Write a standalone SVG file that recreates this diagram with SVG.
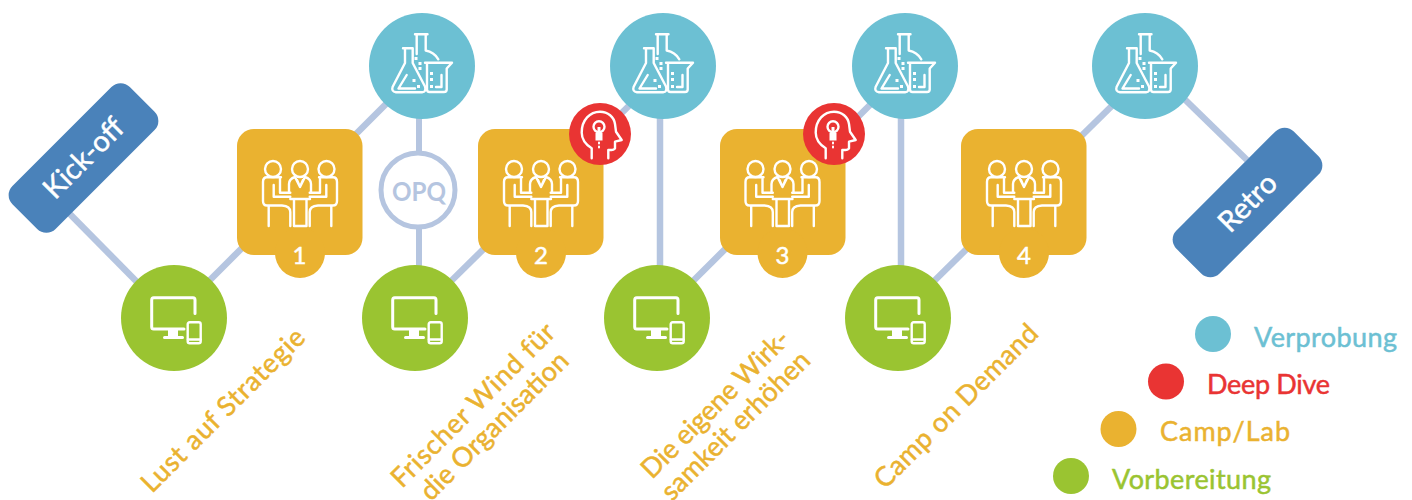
<svg xmlns="http://www.w3.org/2000/svg" xmlns:xlink="http://www.w3.org/1999/xlink" width="1412" height="500" viewBox="0 0 1412 500">
<style>
.t{fill:#6cc0d3}.g{fill:#9ac431}.y{fill:#eab230}.r{fill:#e93433}.b{fill:#4a82ba}
.ln{stroke:#b5c5e0;stroke-width:6.500;fill:none}
.ic{fill:none;stroke:#fff;stroke-width:2.400;stroke-linejoin:round;stroke-linecap:round}
.dot{fill:#fff}
text{font-family:"Lato","Noto Sans",sans-serif;paint-order:stroke}
.lab{font-size:27px;fill:#eab230;stroke:#eab230;stroke-width:.5}
.leg{font-size:27px;stroke-width:.5}
.leg.t{stroke:#6cc0d3}.leg.r{stroke:#e93433}.leg.y{stroke:#eab230}.leg.g{stroke:#9ac431}
.num{font-size:24px;fill:#fff;stroke:#fff;stroke-width:.5;text-anchor:middle}
.pill{font-size:29px;fill:#fff;stroke:#fff;stroke-width:.5;text-anchor:middle}
</style>
<defs>
<g id="flask">
<path class="ic" d="M-16-17.700H-6.300V-3L6 20.500Q7.500 26 3 26.300H-23Q-28 25.500-26.300 20.700L-14-3V-17.700"/>
<path class="ic" d="M-12.300 9L-20.500 22.500H-4"/>
<path class="ic" d="M-4-31.700H8.500M-2.300-31.700V-12M6.700-31.700V-15.500Q15-14 19.300-6.700"/>
<path class="ic" d="M6-3.300H33L27.700 2.500V23.500Q27.700 26 25 26H10.500Q8 26 8 23.500V-3"/>
<path class="ic" d="M22.500 9V21H17"/>
<path class="dot" d="M-4.500-9h3v3h-3zM-.5-4h3v3h-3zM-.5 1h3v3h-3zM-6.500 13h3v3h-3zM-2 19h3v3h-3zM11 6h3v3h-3zM11 12h3v3h-3zM11 19h3v3h-3z"/>
</g>
<g id="people">
<circle class="ic" cx="-27" cy="-23" r="8"/><circle class="ic" cx="0" cy="-23" r="8"/><circle class="ic" cx="26.500" cy="-23" r="8"/>
<path class="ic" d="M-19-14.700H-33Q-37-14.700-37-10V9Q-37 13.500-33 13.500H-18Q-9.700 14-9.700 20V34M-31.300 14V34M-26.300-7V4.700H-9.700M-20-13V.7H-9.700"/>
<path class="ic" d="M19-14.700H33Q37-14.700 37-10V9Q37 13.500 33 13.500H18Q9.700 14 9.700 20V34M31.300 14V34M26.300-7V4.700H9.700M20-13V.7H9.700"/>
<path class="ic" d="M-11 0V-8Q-11-13-5-15L0-5L5-15Q11-13 11-8V0M-3-12L0-5L3-12"/>
<path class="ic" d="M-9.700 7H10M-6 7V34M6.500 7V34M-6 34H6.500"/>
</g>
<g id="device">
<path class="ic" style="stroke-width:3" d="M21-4.500V-18Q21-20.300 19-20.300H-20.300Q-22.300-20.300-22.300-18V9Q-22.300 11-20.300 11H10"/>
<path class="dot" d="M-6 11H4V18H8.500Q10 18 10 19.500T8.500 21H-9.500Q-11 21-11 19.500T-9.500 18H-6z"/>
<rect class="ic" x="13.700" y="4.300" width="13" height="21" rx="2"/>
<path class="ic" d="M14 21.500H26.500"/>
</g>
<g id="head">
<path class="ic" d="M-8.300 24.300V14.300Q-18.300 8-18.300-1.500C-18.300-14-10-22.300 0-22.300C8-22.300 14-17 15-10L16-2.300L21.700 6L15 7.700V14.300Q14.500 16 8.300 16V24.300"/>
<circle class="ic" cx="-1" cy="-7.300" r="5.500"/>
<path class="dot" d="M-2.500-7h3v6h-3zM-4.500-1H2.500V6.500H-4.500z"/>
<path class="ic" style="stroke-width:2" d="M-1 8.500V9.500M-1 12.500V13.500"/>
</g>
</defs>
<g id="connectors">
<path class="ln" d="M60 204L137 282"/>
<path class="ln" d="M200 290L400 90"/>
<path class="ln" style="stroke-width:6" d="M419 66V318"/>
<path class="ln" d="M441 291L645 90"/>
<path class="ln" d="M660 66V318"/>
<path class="ln" d="M683 291L885 90"/>
<path class="ln" d="M901 66V318"/>
<path class="ln" d="M924 291L1128 90"/>
<path class="ln" d="M1170 85L1247 160"/>
</g>
<g id="kickoff"><g transform="translate(83.500 158) rotate(-45)"><rect class="b" x="-83" y="-30.500" width="166" height="61" rx="13"/><text class="pill" y="10">Kick-off</text></g></g>
<g id="retro"><g transform="translate(1247.500 202.500) rotate(-45)"><rect class="b" x="-83" y="-30.500" width="166" height="61" rx="13"/><text class="pill" y="10">Retro</text></g></g>
<g id="prep1"><circle class="g" cx="174" cy="318" r="53"/><use xlink:href="#device" href="#device" x="174" y="318"/></g>
<g id="prep2"><circle class="g" cx="415" cy="318" r="53"/><use xlink:href="#device" href="#device" x="415" y="318"/></g>
<g id="prep3"><circle class="g" cx="657" cy="318" r="53"/><use xlink:href="#device" href="#device" x="657" y="318"/></g>
<g id="prep4"><circle class="g" cx="898" cy="318" r="53"/><use xlink:href="#device" href="#device" x="898" y="318"/></g>
<g id="test1"><circle class="t" cx="422" cy="66" r="53"/><use xlink:href="#flask" href="#flask" x="419" y="66"/></g>
<g id="test2"><circle class="t" cx="663" cy="66" r="53"/><use xlink:href="#flask" href="#flask" x="660" y="66"/></g>
<g id="test3"><circle class="t" cx="905" cy="66" r="53"/><use xlink:href="#flask" href="#flask" x="902" y="66"/></g>
<g id="test4"><circle class="t" cx="1145" cy="66" r="53"/><use xlink:href="#flask" href="#flask" x="1143" y="66"/></g>
<g id="opq"><circle cx="418" cy="190" r="37" fill="#fff" stroke="#b5c5e0" stroke-width="5"/><text x="419" y="200.500" text-anchor="middle" font-size="27" font-weight="700" fill="#b5c5e0" textLength="54" lengthAdjust="spacingAndGlyphs">OPQ</text></g>
<g id="camp1"><rect class="y" x="237" y="129" width="125.500" height="126" rx="17"/><circle class="y" cx="300" cy="253" r="25"/><use xlink:href="#people" href="#people" x="300" y="192"/><text class="num" x="299.500" y="264">1</text></g>
<g id="camp2"><rect class="y" x="478" y="129" width="125.500" height="126" rx="17"/><circle class="y" cx="541" cy="253" r="25"/><use xlink:href="#people" href="#people" x="541" y="192"/><text class="num" x="541" y="264">2</text></g>
<g id="camp3"><rect class="y" x="720" y="129" width="125.500" height="126" rx="17"/><circle class="y" cx="782.500" cy="253" r="25"/><use xlink:href="#people" href="#people" x="782.500" y="192"/><text class="num" x="782.500" y="264">3</text></g>
<g id="camp4"><rect class="y" x="961" y="129" width="125.500" height="126" rx="17"/><circle class="y" cx="1024" cy="253" r="25"/><use xlink:href="#people" href="#people" x="1024" y="192"/><text class="num" x="1024" y="264">4</text></g>
<g id="dive1"><circle class="r" cx="600" cy="134" r="31"/><use xlink:href="#head" href="#head" x="600" y="134"/></g>
<g id="dive2"><circle class="r" cx="834" cy="134" r="31"/><use xlink:href="#head" href="#head" x="834" y="134"/></g>
<g id="labels">
<text class="lab" transform="translate(152 494) rotate(-45)" textLength="219">Lust auf Strategie</text>
<text class="lab" transform="translate(402 489) rotate(-45)" textLength="219">Frischer Wind für</text>
<text class="lab" transform="translate(431 502) rotate(-45)" textLength="197">die Organisation</text>
<text class="lab" transform="translate(652 480) rotate(-45)" textLength="197">Die eigene Wirk-</text>
<text class="lab" transform="translate(672 502) rotate(-45)" textLength="198">samkeit erhöhen</text>
<text class="lab" transform="translate(885 490) rotate(-45)" textLength="219">Camp on Demand</text>
</g>
<g id="legend">
<circle class="t" cx="1213" cy="334" r="18"/><text class="leg t" x="1254" y="347" textLength="143">Verprobung</text>
<circle class="r" cx="1166" cy="381.500" r="18"/><text class="leg r" x="1207" y="394" textLength="123">Deep Dive</text>
<circle class="y" cx="1118.500" cy="429" r="18"/><text class="leg y" x="1160" y="441" textLength="130">Camp/Lab</text>
<circle class="g" cx="1071" cy="476" r="18"/><text class="leg g" x="1112" y="489" textLength="159">Vorbereitung</text>
</g>
</svg>
